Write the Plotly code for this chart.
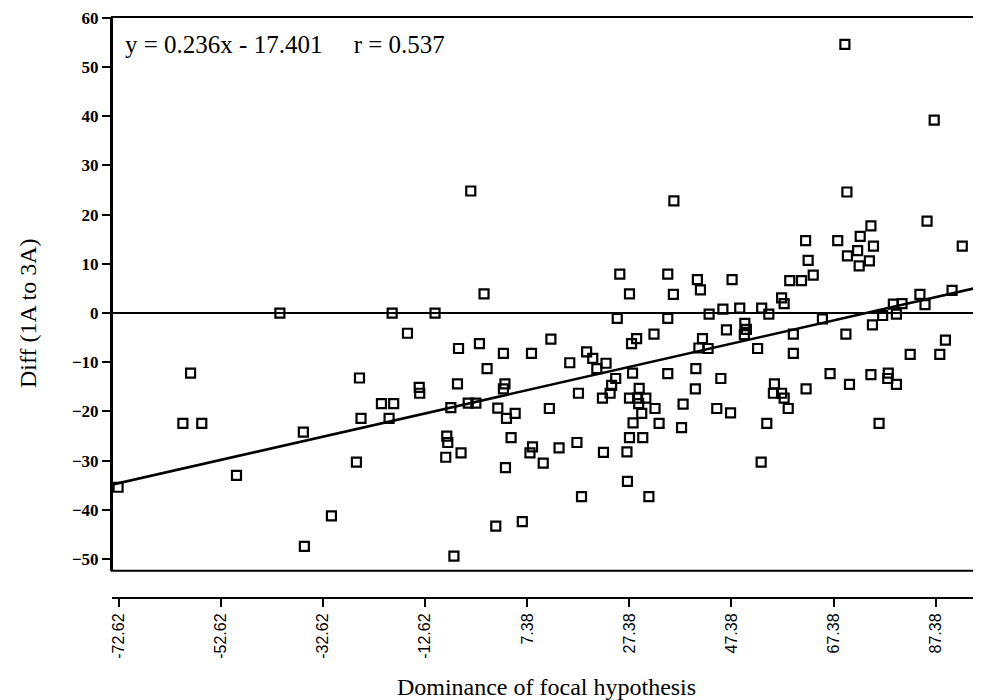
import plotly.graph_objects as go

# ---- data ----
dominance = [
    -72.8, -60.1, -56.4, -58.6, -49.6, -41.1, -36.5, -36.3, -31.0, -26.1,
    -25.5, -25.2, -21.2, -18.8, -19.7, -19.1, -16.1, -13.8, -13.7, -10.7,
    -8.4, -8.2, -8.6, -5.6, -7.6, -7.0, -6.1, -6.3, -4.2, -2.7,
    -3.7, -2.0, -1.1, -0.5, 1.6, 3.3, 5.0, 2.7, 3.0, 2.7,
    1.2, 4.2, 3.1, 6.4, 8.2, 8.4, 7.9, 10.5, 11.7, 12.0,
    13.6, 15.7, 17.1, 17.4, 18.0, 19.0, 20.2, 21.0, 22.8, 22.1,
    23.6, 23.9, 24.7, 22.3, 25.0, 25.5, 26.9, 27.0, 27.4, 27.4,
    27.4, 29.0, 30.6, 29.3, 29.2, 28.0, 28.1, 27.8, 28.8, 29.8,
    30.0, 31.2, 32.2, 32.4, 33.2, 34.9, 34.9, 34.9, 36.0, 36.1,
    37.6, 37.9, 40.4, 40.3, 40.7, 41.3, 41.7, 41.0, 42.8, 43.0,
    44.5, 45.3, 45.7, 46.4, 47.2, 47.5, 49.0, 50.0, 50.3, 49.9,
    52.5, 53.2, 53.3, 54.3, 54.7, 55.8, 55.6, 57.2, 57.7, 58.5,
    57.2, 57.7, 58.8, 61.1, 59.5, 59.5, 61.9, 62.4, 63.4, 62.0,
    65.2, 66.7, 68.2, 69.8, 69.6, 70.0, 70.1, 70.5, 72.1, 72.4,
    72.6, 74.4, 75.2, 74.7, 74.7, 75.0, 76.3, 77.0, 79.7, 78.1,
    78.0, 79.7, 79.1, 80.8, 82.4, 84.3, 85.3, 85.7, 87.1, 88.2,
    89.3, 90.6, 92.6,
]
diff = [
    -35.4, -22.4, -22.4, -12.2, -33.0, 0.0, -24.2, -47.4, -41.2, -30.3,
    -13.2, -21.4, -18.4, -18.4, -21.4, 0.0, -4.1, -15.1, -16.3, 0.0,
    -25.0, -26.3, -29.3, -28.4, -19.2, -49.4, -7.2, -14.4, -18.3, -18.3,
    24.8, -6.2, 3.9, -11.3, -19.3, -21.4, -20.4, -8.2, -14.4, -15.4,
    -43.3, -25.3, -31.4, -42.4, -8.2, -27.2, -28.4, -30.5, -19.4, -5.3,
    -27.4, -10.1, -26.3, -16.3, -37.3, -7.9, -9.2, -11.3, -10.2, -17.3,
    -16.3, -14.7, -13.3, -28.3, -1.1, 7.9, -28.2, -34.2, 3.9, -25.3,
    -17.3, -17.3, -17.3, -15.3, -18.4, -12.2, -22.3, -6.2, -5.2, -20.4,
    -25.3, -37.3, -4.3, -19.4, -22.4, 7.9, -1.1, -12.3, 3.8, 22.8,
    -23.3, -18.5, -11.3, -15.4, 6.8, 4.7, -5.2, -7.1, -7.2, -0.2,
    -19.4, -13.3, 0.8, -3.4, -20.3, 6.8, 1.0, -2.1, -3.3, -4.4,
    -7.2, -30.3, 1.0, -22.4, -0.2, -14.4, -16.3, -16.3, -17.3, -19.4,
    3.1, 1.9, 6.6, 6.6, -4.3, -8.2, 14.7, 10.7, 7.7, -15.4,
    -1.2, -12.3, 14.7, -4.3, 54.6, 24.6, 11.6, -14.5, 12.7, 9.6,
    15.6, 10.6, 13.6, 17.7, -12.5, -2.4, -22.4, -0.5, -0.2, -12.2,
    -13.3, -14.5, 1.8, 1.9, -8.4, 3.8, 1.7, 18.7, 39.2, -8.4,
    -5.5, 4.6, 13.6,
]

x_ticks = [-72.62, -52.62, -32.62, -12.62, 7.38, 27.38, 47.38, 67.38, 87.38]
y_ticks = [-50, -40, -30, -20, -10, 0, 10, 20, 30, 40, 50, 60]

SLOPE = 0.236
INTERCEPT = -17.401
R_VALUE = 0.537

X_RANGE = [-73.99, 96.27]
Y_RANGE = [-52.36, 60.16]

SERIF = "Liberation Serif, Times New Roman, serif"
SANS = "Liberation Sans, Arial, sans-serif"

# the page body has an 8px margin, so the figure is drawn 8px smaller
# and its margins shifted to land where the reference puts things
BODY = 8

fig = go.Figure()

fig.add_trace(go.Scatter(
    x=dominance, y=diff, mode="markers",
    marker=dict(symbol="square-open", size=9, color="black",
                line=dict(width=2.2, color="black")),
    showlegend=False, hoverinfo="x+y",
))

fig.add_trace(go.Scatter(
    x=X_RANGE,
    y=[SLOPE * v + INTERCEPT for v in X_RANGE],
    mode="lines", line=dict(color="black", width=2.6),
    showlegend=False, hoverinfo="skip",
))

fig.update_layout(
    width=981 - BODY, height=700 - BODY,
    margin=dict(l=112 - BODY, r=0, t=17 - BODY, b=108 - BODY),
    paper_bgcolor="white", plot_bgcolor="white",
    font=dict(family=SERIF, color="black"),
    xaxis=dict(
        range=X_RANGE, anchor="free", position=0,
        tickmode="array", tickvals=x_ticks,
        ticktext=[f"{v:.2f}" for v in x_ticks],
        tickangle=-90, ticks="outside", ticklen=8, tickwidth=2,
        tickcolor="black",
        tickfont=dict(family=SANS, size=16, color="black"),
        showline=True, linecolor="black", linewidth=2,
        showgrid=False, zeroline=False,
        title=dict(text="Dominance of focal hypothesis",
                   font=dict(family=SERIF, size=24, color="black"),
                   standoff=24),
    ),
    yaxis=dict(
        range=Y_RANGE, domain=[27 / 575, 1],
        tickmode="array", tickvals=y_ticks,
        ticks="outside", ticklen=8, tickwidth=2, tickcolor="black",
        tickfont=dict(family=SERIF, size=17, color="black", weight="bold"),
        showline=True, linecolor="black", linewidth=2,
        showgrid=False,
        zeroline=True, zerolinecolor="black", zerolinewidth=2,
    ),
    shapes=[dict(type="rect", xref="x domain", yref="y domain",
                 x0=0, x1=1, y0=0, y1=1,
                 line=dict(color="black", width=2))],
    annotations=[
        dict(
            xref="paper", yref="paper", x=11 / 869, y=(592 - 44) / 575,
            xanchor="left", yanchor="middle", showarrow=False,
            text=(f"y = {SLOPE:.3f}x - {abs(INTERCEPT):.3f}"
                  f"&nbsp;&nbsp;&nbsp;&nbsp;&nbsp;r = {R_VALUE:.3f}"),
            font=dict(family=SERIF, size=25, color="black"),
        ),
        dict(
            xref="paper", yref="paper", x=(28 - 112) / 869,
            y=(592 - 310) / 575, xanchor="center", yanchor="middle",
            textangle=-90, showarrow=False,
            text="Diff (1A to 3A)",
            font=dict(family=SERIF, size=24, color="black"),
        ),
    ],
)

fig.write_html("out.html")
